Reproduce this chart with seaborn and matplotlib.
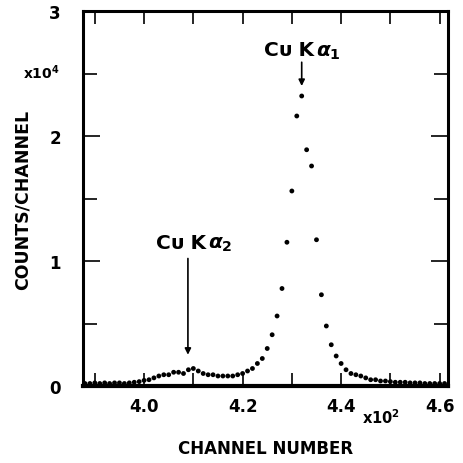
import matplotlib
matplotlib.use("Agg")
import matplotlib.pyplot as plt
import seaborn as sns
import pandas as pd
import numpy as np
from matplotlib.ticker import MultipleLocator

channels = list(range(388, 462))
counts_e4 = [
    0.02, 0.02, 0.025, 0.02, 0.025, 0.02, 0.025, 0.025, 0.02, 0.025,   # 388-397
    0.03, 0.035, 0.045, 0.05, 0.065, 0.08, 0.09, 0.09, 0.11, 0.11,     # 398-407
    0.10, 0.13, 0.14, 0.12, 0.10, 0.09, 0.09, 0.08, 0.08, 0.08,        # 408-417
    0.08, 0.09, 0.10, 0.12, 0.14, 0.18, 0.22, 0.30, 0.41, 0.56,        # 418-427
    0.78, 1.15, 1.56, 2.16, 2.32, 1.89, 1.76, 1.17, 0.73, 0.48,        # 428-437
    0.33, 0.24, 0.18, 0.13, 0.10, 0.09, 0.08, 0.065, 0.05, 0.05,       # 438-447
    0.04, 0.04, 0.035, 0.03, 0.03, 0.03, 0.025, 0.025, 0.025, 0.02,    # 448-457
    0.02, 0.02, 0.02, 0.02,                                            # 458-461
]
x_ticks = [4.0, 4.2, 4.4, 4.6]
y_ticks = [0, 1, 2, 3]

sns.set_style("white")
plt.rcParams['font.family'] = ['DejaVu Sans']
plt.rcParams['font.weight'] = 'bold'
plt.rcParams['text.color'] = 'black'
plt.rcParams['axes.labelcolor'] = 'black'
plt.rcParams['xtick.color'] = 'black'
plt.rcParams['ytick.color'] = 'black'
plt.rcParams['mathtext.fontset'] = 'custom'
plt.rcParams['mathtext.rm'] = 'DejaVu Sans:bold'
plt.rcParams['mathtext.bf'] = 'DejaVu Sans:bold'
plt.rcParams['mathtext.it'] = 'DejaVu Sans:italic'

df = pd.DataFrame({"x": np.array(channels) / 100.0, "y": counts_e4})

fig = plt.figure(figsize=(4.63, 4.64), dpi=100)
ax = fig.add_axes([83/463, 1-387/464, (448-83)/463, (387-12)/464])
sns.scatterplot(data=df, x="x", y="y", ax=ax, color="black", s=12,
                edgecolor="none", legend=False, zorder=3, clip_on=False)

ax.set_xlim(3.876, 4.617)
ax.set_ylim(0, 3)
ax.set_xticks(x_ticks)
ax.set_xticklabels([f"{v:.1f}" for v in x_ticks])
ax.set_yticks(y_ticks)
ax.set_yticklabels([str(v) for v in y_ticks])
ax.xaxis.set_minor_locator(MultipleLocator(0.1))
ax.yaxis.set_minor_locator(MultipleLocator(0.5))
ax.tick_params(axis='x', which='both', direction='in', top=True, bottom=True,
               length=9.5, width=1.2, pad=8, labelsize=12, colors='black')
ax.tick_params(axis='y', which='major', direction='in', left=True, right=True,
               length=12.5, width=1.2, pad=16, labelsize=12, colors='black')
ax.tick_params(axis='y', which='minor', direction='in', left=True, right=True,
               length=10, width=1.2, colors='black')
for lab in ax.get_xticklabels() + ax.get_yticklabels():
    lab.set_fontweight('bold')

for name, sp in ax.spines.items():
    sp.set_visible(True)
    sp.set_color('black')
    sp.set_linewidth(2.2)
ax.spines['bottom'].set_linewidth(3)

ax.set_xlabel("CHANNEL NUMBER", fontsize=12, fontweight='bold', color='black')
ax.set_ylabel("COUNTS/CHANNEL", fontsize=12.5, fontweight='bold', color='black')
ax.xaxis.set_label_coords(0.5, -0.141)
ax.yaxis.set_label_coords(-0.142, 0.5)

fig.text(362/463, 1-418/464, r"x10$^{\mathbf{2}}$", fontsize=10.5, fontweight='bold',
         ha='left', va='center', color='black')
fig.text(23/463, 1-73/464, r"x10$^{\mathbf{4}}$", fontsize=10, fontweight='bold',
         ha='left', va='center', color='black')


def peak_label(x, y, sub):
    ax.annotate("Cᴜ K", xy=(x, y), xytext=(0, 0), textcoords='offset points',
                fontsize=14.5, fontweight='bold', ha='right', va='center',
                color='black')
    ax.annotate("$\\alpha_{%s}$" % sub, xy=(x, y), xytext=(1.5, -1),
                textcoords='offset points', fontsize=14.5, fontweight='normal',
                ha='left', va='center', color='black')


ax.annotate("", xy=(4.32, 2.4), xytext=(4.32, 2.59),
            arrowprops=dict(arrowstyle='-|>', color='black', lw=1.2,
                            mutation_scale=9, shrinkA=0, shrinkB=0))
peak_label(4.345, 2.69, "1")

ax.annotate("", xy=(4.089, 0.25), xytext=(4.089, 1.02),
            arrowprops=dict(arrowstyle='-|>', color='black', lw=1.2,
                            mutation_scale=9, shrinkA=0, shrinkB=0))
peak_label(4.125, 1.15, "2")

fig.savefig("out.png", dpi=100)
